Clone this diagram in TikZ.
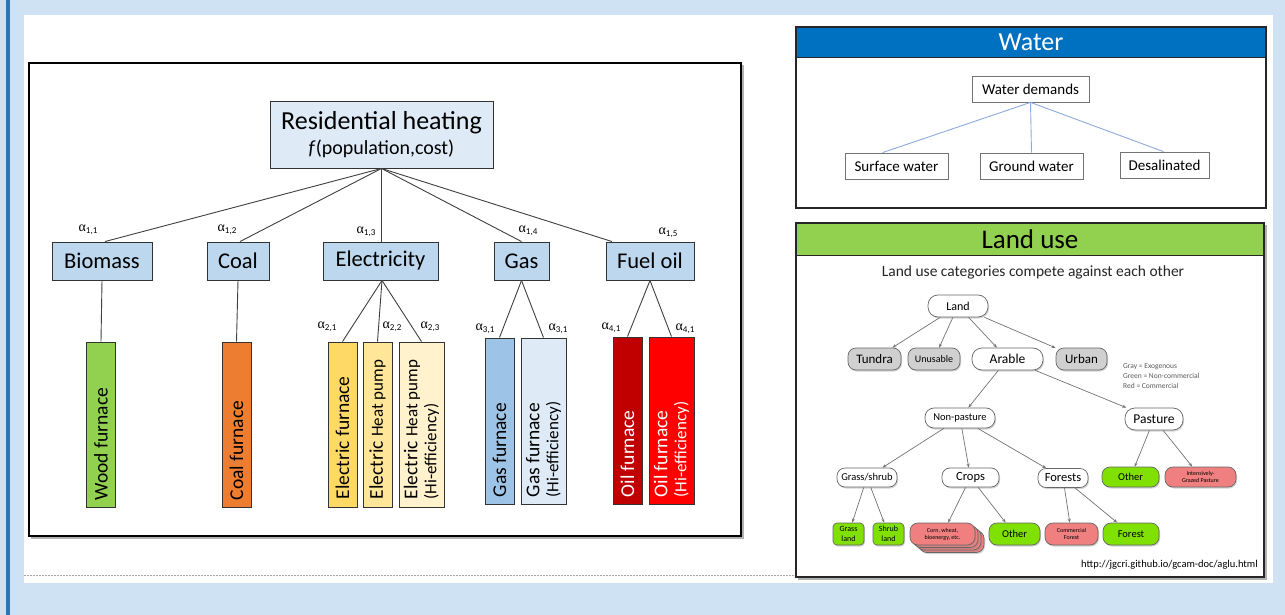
\documentclass[tikz,border=0pt]{standalone}
\usepackage{fontspec}
\setmainfont{Carlito}
\newfontfamily\alfont{Liberation Serif}
\usetikzlibrary{shadows,arrows.meta}
\definecolor{bgblue}{HTML}{CFE2F3}
\definecolor{barblue}{HTML}{2E75B6}
\definecolor{resfill}{HTML}{DEEBF7}
\definecolor{lvfill}{HTML}{BDD7EE}
\definecolor{cwood}{HTML}{92D050}
\definecolor{ccoal}{HTML}{ED7D31}
\definecolor{cef}{HTML}{FFD966}
\definecolor{cehp}{HTML}{FFE699}
\definecolor{cehph}{HTML}{FFF2CC}
\definecolor{cgf}{HTML}{9DC3E6}
\definecolor{cgfh}{HTML}{DEEBF7}
\definecolor{cof}{HTML}{C00000}
\definecolor{cofh}{HTML}{FF0000}
\definecolor{wblue}{HTML}{0070C0}
\definecolor{wline}{HTML}{8FAADC}
\definecolor{lugreen}{HTML}{92D050}
\definecolor{lime}{HTML}{80E000}
\definecolor{coral}{HTML}{F08080}
\definecolor{lgray}{HTML}{D0D0D0}
\newcommand\fsz[2]{\fontsize{#1}{#2}\selectfont}
\newcommand\al[1]{{\alfont\fsz{14}{14}α}\raisebox{-2.5pt}{\fsz{9}{9}#1}}
\tikzset{
  lvbox/.style={draw=black!80, line width=0.9pt, fill=lvfill, inner sep=0pt, minimum height=38pt, font=\fsz{22.5}{24}},
  techbox/.style={draw=black!80, line width=0.9pt, inner sep=0pt, minimum width=29pt},
  rot/.style={rotate=90, anchor=west, inner sep=0pt, align=left, font=\fsz{19.5}{19}},
  conn/.style={draw=black!75, line width=0.9pt},
  allab/.style={inner sep=0pt},
  wbox/.style={draw=black!55, line width=0.8pt, fill=white, inner sep=0pt, minimum height=26pt, font=\fsz{15}{15}},
  wconn/.style={draw=wline, line width=0.9pt},
  lu/.style={draw=black!60, line width=0.7pt, rounded corners=8pt, inner sep=0pt, fill=white,
     drop shadow={shadow xshift=1pt, shadow yshift=-1.5pt, opacity=0.35}},
  luarr/.style={draw=black!55, line width=0.7pt, -{Stealth[length=4pt,width=3pt]}},
}
\begin{document}
\begin{tikzpicture}[x=1pt,y=-1pt]
\useasboundingbox (0,0) rectangle (1285,615);
\fill[bgblue] (0,0) rectangle (1285,615);
\fill[barblue] (6,0) rectangle (10,615);
\fill[white] (24,15) rectangle (1273,583);
\draw[black!35, line width=0.8pt, dash pattern=on 1.5pt off 1.5pt] (24,575) -- (796,575);

% ---------- left diagram ----------
\draw[black!30, line width=2pt] (31,538) -- (743,538) -- (743,65);
\draw[black, line width=2pt] (29,63) rectangle (741,536);

\node[draw=black!80, line width=0.9pt, fill=resfill, minimum width=223pt, minimum height=67pt, inner sep=0pt, align=center]
  (res) at (381.5,134.5) {{\fsz{26}{26}Residential heating}\\[5pt]{\fsz{20}{20}\textit{f}(population,cost)}};

\node[lvbox, minimum width=100pt] (bio) at (102,261) {Biomass};
\node[lvbox, minimum width=62pt] (coal) at (238,261) {Coal};
\node[lvbox, minimum width=115pt] (elec) at (380.5,261) {Electricity};
\node[lvbox, minimum width=55pt] (gas) at (521.5,261) {Gas};
\node[lvbox, minimum width=88pt] (oil) at (650,261) {Fuel oil};

\draw[conn] (res.south) -- ([xshift=3pt]bio.north);
\draw[conn] (res.south) -- ([xshift=2pt]coal.north);
\draw[conn] (res.south) -- ([xshift=1pt]elec.north);
\draw[conn] (res.south) -- (gas.north);
\draw[conn] (res.south) -- ([xshift=-38pt]oil.north);

\node[allab] (a11) at (88,230) {\al{1,1}};
\node[allab] (a12) at (227,230) {\al{1,2}};
\node[allab] (a13) at (366,232) {\al{1,3}};
\node[allab] (a14) at (528,231) {\al{1,4}};
\node[allab] (a15) at (668,233) {\al{1,5}};

% tech boxes
\node[techbox, fill=cwood, minimum height=165pt] (wood) at (101,424.5) {};
\node[techbox, fill=ccoal, minimum height=165pt] (coalf) at (236.5,424.5) {};
\node[techbox, fill=cef, minimum height=165pt] (ef) at (342.5,424.5) {};
\node[techbox, fill=cehp, minimum height=165pt] (ehp) at (377.5,424.5) {};
\node[techbox, fill=cehph, minimum height=165pt, minimum width=45pt] (ehph) at (421.5,424.5) {};
\node[techbox, fill=cgf, minimum height=166pt] (gf) at (499.5,421) {};
\node[techbox, fill=cgfh, minimum height=166pt, minimum width=45pt] (gfh) at (543.5,421) {};
\node[techbox, fill=cof, minimum height=167pt] (of) at (627.5,420.5) {};
\node[techbox, fill=cofh, minimum height=167pt, minimum width=45pt] (ofh) at (671.5,420.5) {};

\node[rot] (twood) at ([yshift=7pt]wood.south) {Wood furnace};
\node[rot] (tcoal) at ([yshift=7pt]coalf.south) {Coal furnace};
\node[rot] (tef) at ([yshift=8pt]ef.south) {Electric furnace};
\node[rot] (tehp) at ([yshift=8pt]ehp.south) {Electric {\fsz{17}{19}Heat pump}};
\node[rot] (tehph) at ([yshift=8pt]ehph.south) {Electric {\fsz{17}{19}Heat pump}\\{\fsz{17}{19}(Hi-efficiency)}};
\node[rot] (tgf) at ([yshift=7pt]gf.south) {Gas furnace};
\node[rot] (tgfh) at ([yshift=7pt]gfh.south) {Gas furnace\\{\fsz{17}{19}(Hi-efficiency)}};
\node[rot, text=white] (tof) at ([yshift=7pt]of.south) {Oil furnace};
\node[rot, text=white] (tofh) at ([yshift=7pt]ofh.south) {Oil furnace\\{\fsz{17}{19}(Hi-efficiency)}};

\draw[conn] (bio.south) -- (wood.north);
\draw[conn] (coal.south) -- (coalf.north);
\draw[conn] ([xshift=1.5pt]elec.south) -- (ef.north);
\draw[conn] ([xshift=1.5pt]elec.south) -- (ehp.north);
\draw[conn] ([xshift=1.5pt]elec.south) -- (ehph.north);
\draw[conn] (gas.south) -- (gf.north);
\draw[conn] (gas.south) -- (gfh.north);
\draw[conn] (oil.south) -- (of.north);
\draw[conn] (oil.south) -- (ofh.north);

\node[allab] (a21) at (327,327) {\al{2,1}};
\node[allab] (a22) at (392,327) {\al{2,2}};
\node[allab] (a23) at (430,327) {\al{2,3}};
\node[allab] (a31) at (485,329) {\al{3,1}};
\node[allab] (a31b) at (558,329) {\al{3,1}};
\node[allab] (a41) at (611,328) {\al{4,1}};
\node[allab] (a41b) at (685,329) {\al{4,1}};

% ---------- water panel ----------
\fill[wblue] (796,27) rectangle (1266,58);
\draw[black!85, line width=1.5pt] (796,27) rectangle (1266,208);
\draw[black!85, line width=1pt] (796,58) -- (1266,58);
\node[text=white, font=\fsz{26}{26}] (wtitle) at (1031,42.5) {Water};
\node[wbox, minimum width=117pt] (wd) at (1030.5,89) {Water demands};
\node[wbox, minimum width=103pt] (sw) at (896.5,166) {Surface water};
\node[wbox, minimum width=103pt] (gw) at (1031.5,166) {Ground water};
\node[wbox, minimum width=89pt] (ds) at (1164.5,165) {Desalinated};
\draw[wconn] (wd.south) -- ([xshift=-14pt]sw.north);
\draw[wconn] (wd.south) -- (gw.north);
\draw[wconn] (wd.south) -- ([xshift=-1pt]ds.north);

% ---------- land use panel ----------
\fill[lugreen] (796,223) rectangle (1264,255);
\draw[black!30, line width=2pt] (798,579) -- (1266,579) -- (1266,225);
\draw[black!85, line width=1.6pt] (796,223) rectangle (1264,577);
\draw[black!85, line width=1pt] (796,255) -- (1264,255);
\node[font=\fsz{27}{27}] (lutitle) at (1030,239) {Land use};
\node[font=\fsz{15.5}{16}, text=black!85] (lusub) at (1033,272) {Land use categories compete against each other};

\node[lu, minimum width=60pt, minimum height=22pt, rounded corners=10pt, font=\fsz{12}{12}] (land) at (958,306) {Land};
\node[lu, fill=lgray, minimum width=53pt, minimum height=22pt, font=\fsz{13}{13}] (tundra) at (874.5,359) {Tundra};
\node[lu, fill=lgray, minimum width=52pt, minimum height=22pt, font=\fsz{10}{10}] (unus) at (934,359) {Unusable};
\node[lu, minimum width=71pt, minimum height=22pt, rounded corners=10pt, font=\fsz{13.5}{13}] (arable) at (1007.5,359) {Arable};
\node[lu, fill=lgray, minimum width=51pt, minimum height=22pt, font=\fsz{13}{13}] (urban) at (1081.5,359) {Urban};

\node[font=\fsz{7.5}{10}, text=black!65, align=left, anchor=north west, inner sep=0pt] (legend) at (1123,363)
  {Gray = Exogenous\\Green = Non-commercial\\Red = Commercial};

\node[lu, minimum width=70pt, minimum height=20pt, rounded corners=9pt, font=\fsz{10.5}{10}] (nonp) at (960,418) {Non-pasture};
\node[lu, minimum width=58pt, minimum height=22pt, rounded corners=10pt, font=\fsz{13.5}{13}] (past) at (1154,419) {Pasture};

\node[lu, minimum width=60pt, minimum height=19pt, font=\fsz{10.5}{10}] (gs) at (867,477.5) {Grass/shrub};
\node[lu, minimum width=57pt, minimum height=19pt, font=\fsz{12.5}{12}] (crops) at (970.5,477.5) {Crops};
\node[lu, minimum width=50pt, minimum height=19pt, font=\fsz{12.5}{12}] (forests) at (1063,478) {Forests};
\node[lu, fill=lime, minimum width=57pt, minimum height=20pt, font=\fsz{10.5}{10}] (oth1) at (1130.5,477) {Other};
\node[lu, fill=coral, minimum width=71pt, minimum height=20pt, align=center, font=\fsz{6}{6.5}] (igp) at (1200.5,477) {Intensively-\\Grazed Pasture};

\node[lu, fill=lime, minimum width=31pt, minimum height=22pt, rounded corners=4pt, align=center, font=\fsz{8}{10}] (grl) at (848.5,534) {Grass\\land};
\node[lu, fill=lime, minimum width=31pt, minimum height=22pt, rounded corners=4pt, align=center, font=\fsz{8}{10}] (shl) at (888.5,534) {Shrub\\land};
\node[lu, fill=coral, minimum width=65pt, minimum height=22pt] (corn3) at (951.5,541.5) {};
\node[lu, fill=coral, minimum width=65pt, minimum height=22pt] (corn2) at (948.5,539) {};
\node[lu, fill=coral, minimum width=65pt, minimum height=22pt] (corn1) at (945.5,536.5) {};
\node[lu, fill=coral, minimum width=65pt, minimum height=22pt, align=center, font=\fsz{6}{7}] (corn) at (942.5,534) {Corn, wheat,\\bioenergy, etc.};
\node[lu, fill=lime, minimum width=51pt, minimum height=22pt, font=\fsz{10.5}{10}] (oth2) at (1014.5,534) {Other};
\node[lu, fill=coral, minimum width=53pt, minimum height=22pt, align=center, font=\fsz{6}{7}] (cf) at (1071.5,534) {Commercial\\Forest};
\node[lu, fill=lime, minimum width=56pt, minimum height=22pt, font=\fsz{10.5}{10}] (forest) at (1131,534) {Forest};

\draw[luarr] (land) -- (tundra);
\draw[luarr] (land) -- (unus);
\draw[luarr] (land) -- (arable);
\draw[luarr] (land) -- (urban);
\draw[luarr] (arable) -- (nonp);
\draw[luarr] (arable) -- (past);
\draw[luarr] (nonp) -- (gs);
\draw[luarr] (nonp) -- (crops);
\draw[luarr] (nonp) -- (forests);
\draw[luarr] (past) -- (oth1);
\draw[luarr] (past) -- (igp);
\draw[luarr] (gs) -- (grl);
\draw[luarr] (gs) -- (shl);
\draw[luarr] (crops) -- (corn);
\draw[luarr] (crops) -- (oth2);
\draw[luarr] (forests) -- (cf);
\draw[luarr] (forests) -- (forest);

\node[font=\fsz{10.5}{10}, anchor=east, inner sep=0pt] (url) at (1258,565) {http://jgcri.github.io/gcam-doc/aglu.html};
\end{tikzpicture}
\end{document}
